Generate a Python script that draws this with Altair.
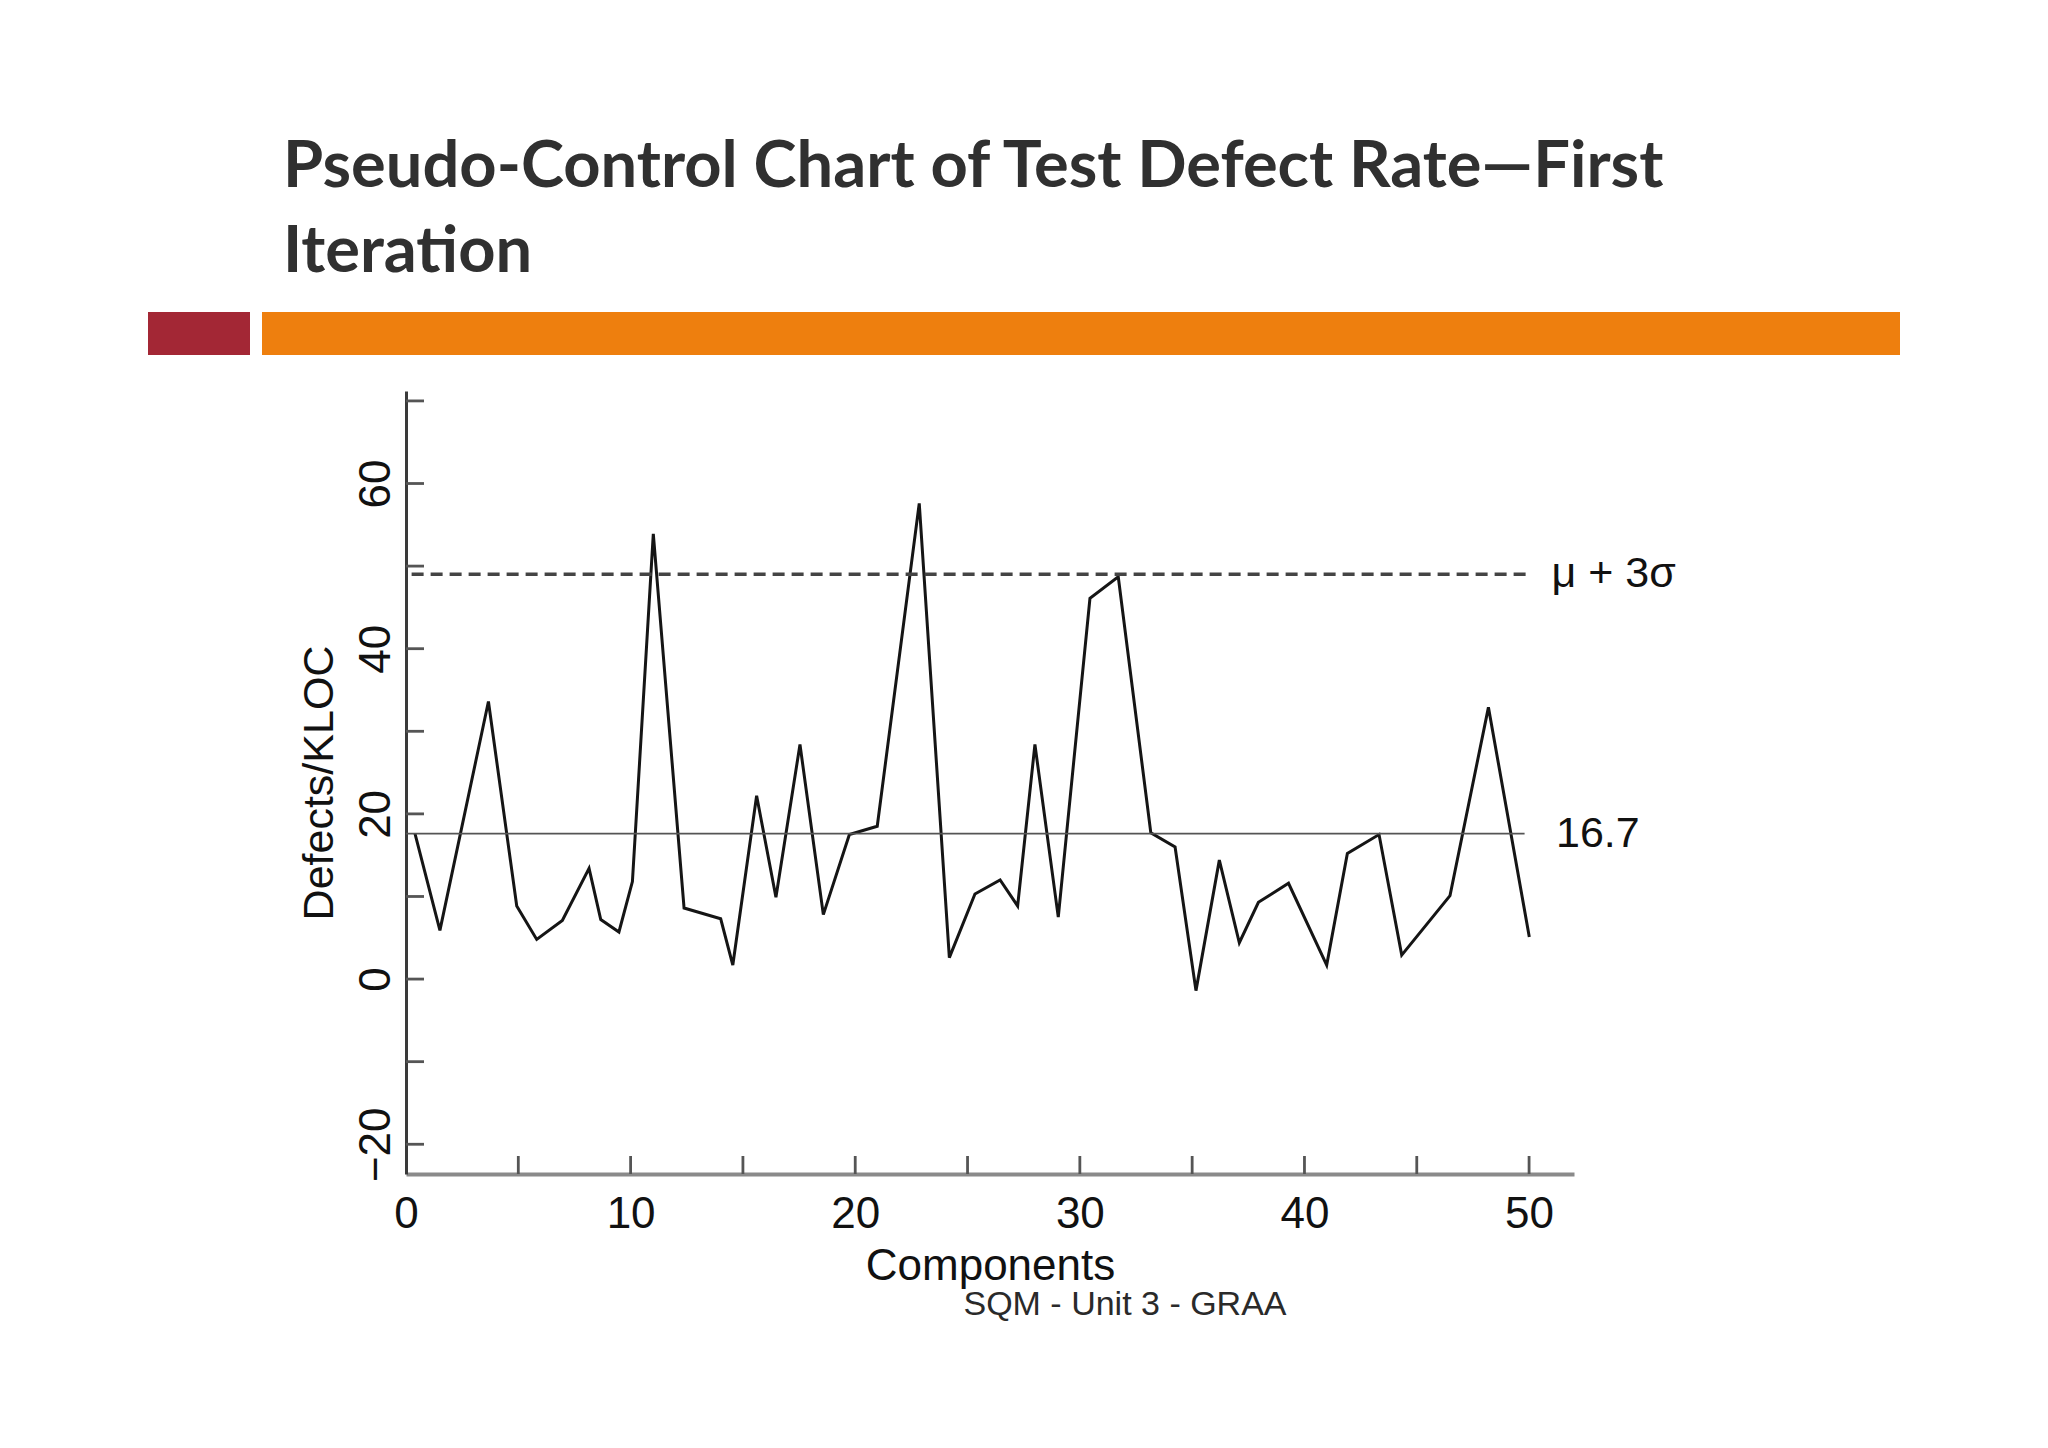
import altair as alt
import pandas as pd

# ---------------- data ----------------
TITLE_LINES = ["Pseudo-Control Chart of Test Defect Rate\u2014First", "Iteration"]
FOOTER = "SQM - Unit 3 - GRAA"
X_TITLE = "Components"
Y_TITLE = "Defects/KLOC"

comp_x = [0.40, 1.51, 3.67, 4.93, 5.82, 6.96, 8.15, 8.67, 9.48, 10.08,
          11.01, 12.38, 14.01, 14.55, 15.61, 16.47, 17.54, 18.58, 19.74, 20.98,
          22.85, 24.19, 25.33, 26.45, 27.23, 28.00, 29.04, 30.45, 31.71, 33.16,
          34.24, 35.17, 36.21, 37.10, 37.95, 39.29, 40.99, 41.91, 43.32, 44.33,
          46.48, 48.19, 50.01]
defects = [17.6, 5.9, 33.6, 8.85, 4.8, 7.1, 13.4, 7.2, 5.7, 11.8,
           53.9, 8.6, 7.3, 1.7, 22.2, 9.9, 28.4, 7.8, 17.5, 18.5,
           57.6, 2.6, 10.3, 12.0, 8.85, 28.4, 7.5, 46.1, 48.7, 17.7,
           16.0, -1.4, 14.4, 4.4, 9.3, 11.6, 1.7, 15.2, 17.5, 2.9,
           10.1, 32.9, 5.1]

x_label_values = [0, 10, 20, 30, 40, 50]
x_tick_values = [5, 10, 15, 20, 25, 30, 35, 40, 45, 50]
y_label_values = [-20, 0, 20, 40, 60]
y_tick_values = [-20, -10, 0, 10, 20, 30, 40, 50, 60, 70]

x_domain = [0, 52.0]
y_domain = [-23.6, 71.2]

ref_names = ["\u03bc + 3\u03c3", "16.7"]
ref_values = [49.0, 17.6]
ref_x_start = [0.25, 0.0]
ref_x_end = [50.1, 49.8]
ref_label_x = [51.0, 51.2]

# ---------------- styling ----------------
AXIS_FONT = "Liberation Sans"
TITLE_FONT = "Lato"
W, H = 1168, 783

line_df = pd.DataFrame({"x": comp_x, "y": defects})
ucl_df = pd.DataFrame({"x": [ref_x_start[0]], "x2": [ref_x_end[0]], "y": [ref_values[0]]})
mean_df = pd.DataFrame({"x": [ref_x_start[1]], "x2": [ref_x_end[1]], "y": [ref_values[1]]})
lab_df = pd.DataFrame({"x": ref_label_x, "y": ref_values, "t": ref_names})
ytick_df = pd.DataFrame({"y": y_tick_values})
xtick_df = pd.DataFrame({"x": x_tick_values})
one = pd.DataFrame({"k": [0]})

xs = alt.Scale(domain=x_domain, nice=False, zero=False)
ys = alt.Scale(domain=y_domain, nice=False, zero=False)

x_axis = alt.Axis(values=x_label_values, ticks=False, tickSize=0, grid=False,
                  domainColor="#8a8a8a", domainWidth=4,
                  labelFont=AXIS_FONT, labelFontSize=44, labelColor="#111111",
                  labelPadding=18, labelFlush=False,
                  title=X_TITLE, titleFont=AXIS_FONT, titleFontSize=44,
                  titleFontWeight="normal", titleColor="#111111", titlePadding=8)
y_axis = alt.Axis(values=y_label_values, ticks=False, tickSize=0, grid=False,
                  domainColor="#3a3a3a", domainWidth=3,
                  labelFont=AXIS_FONT, labelFontSize=44, labelColor="#111111",
                  labelAngle=270, labelAlign="center", labelBaseline="alphabetic",
                  labelPadding=17, labelFlush=False,
                  title=Y_TITLE, titleFont=AXIS_FONT, titleFontSize=43,
                  titleFontWeight="normal", titleColor="#111111", titlePadding=13)

line = alt.Chart(line_df).mark_line(color="#151515", strokeWidth=3).encode(
    x=alt.X("x:Q", scale=xs, axis=x_axis),
    y=alt.Y("y:Q", scale=ys, axis=y_axis),
    order=alt.Order("x:Q"),
)

ucl = alt.Chart(ucl_df).mark_rule(color="#444444", strokeWidth=3.5, strokeDash=[12, 7]).encode(
    x="x:Q", x2="x2:Q", y="y:Q")
mean = alt.Chart(mean_df).mark_rule(color="#555555", strokeWidth=1.8).encode(
    x="x:Q", x2="x2:Q", y="y:Q")

labels = alt.Chart(lab_df).mark_text(align="left", baseline="middle", font=AXIS_FONT,
                                     fontSize=43, color="#111111").encode(
    x="x:Q", y="y:Q", text="t:N")

yticks = alt.Chart(ytick_df).mark_rule(color="#555555", strokeWidth=2.8).encode(
    y="y:Q", x=alt.value(0), x2=alt.value(18))
xticks = alt.Chart(xtick_df).mark_rule(color="#555555", strokeWidth=2.8).encode(
    x="x:Q", y=alt.value(H), y2=alt.value(H - 18))

# header: title text and coloured bands (decoration, in pixels from plot origin)
title1 = alt.Chart(one).mark_text(text=TITLE_LINES[0], align="left", baseline="alphabetic",
                                  font=TITLE_FONT, fontSize=65, fontWeight="bold",
                                  color="#303030").encode(x=alt.value(-123), y=alt.value(-204))
title2 = alt.Chart(one).mark_text(text=TITLE_LINES[1], align="left", baseline="alphabetic",
                                  font=TITLE_FONT, fontSize=65, fontWeight="bold",
                                  color="#303030").encode(x=alt.value(-123), y=alt.value(-119))
red_band = alt.Chart(one).mark_rect(color="#A32735").encode(
    x=alt.value(-258), x2=alt.value(-156), y=alt.value(-79), y2=alt.value(-36))
orange_band = alt.Chart(one).mark_rect(color="#EE7F0E").encode(
    x=alt.value(-144), x2=alt.value(1494), y=alt.value(-79), y2=alt.value(-36))
footer = alt.Chart(one).mark_text(text=FOOTER, align="center", baseline="middle",
                                  font=AXIS_FONT, fontSize=34, color="#2a2a2a").encode(
    x=alt.value(719), y=alt.value(914))

chart = alt.layer(
    line, mean, ucl, yticks, xticks, labels,
    title1, title2, red_band, orange_band, footer,
).properties(
    width=W, height=H,
    autosize=alt.AutoSizeParams(type="none"),
    padding={"left": 398, "top": 383, "right": 466, "bottom": 250},
    background="white",
).configure_view(strokeWidth=0)

chart.save("out.html", embed_options={"renderer": "svg", "actions": False})
